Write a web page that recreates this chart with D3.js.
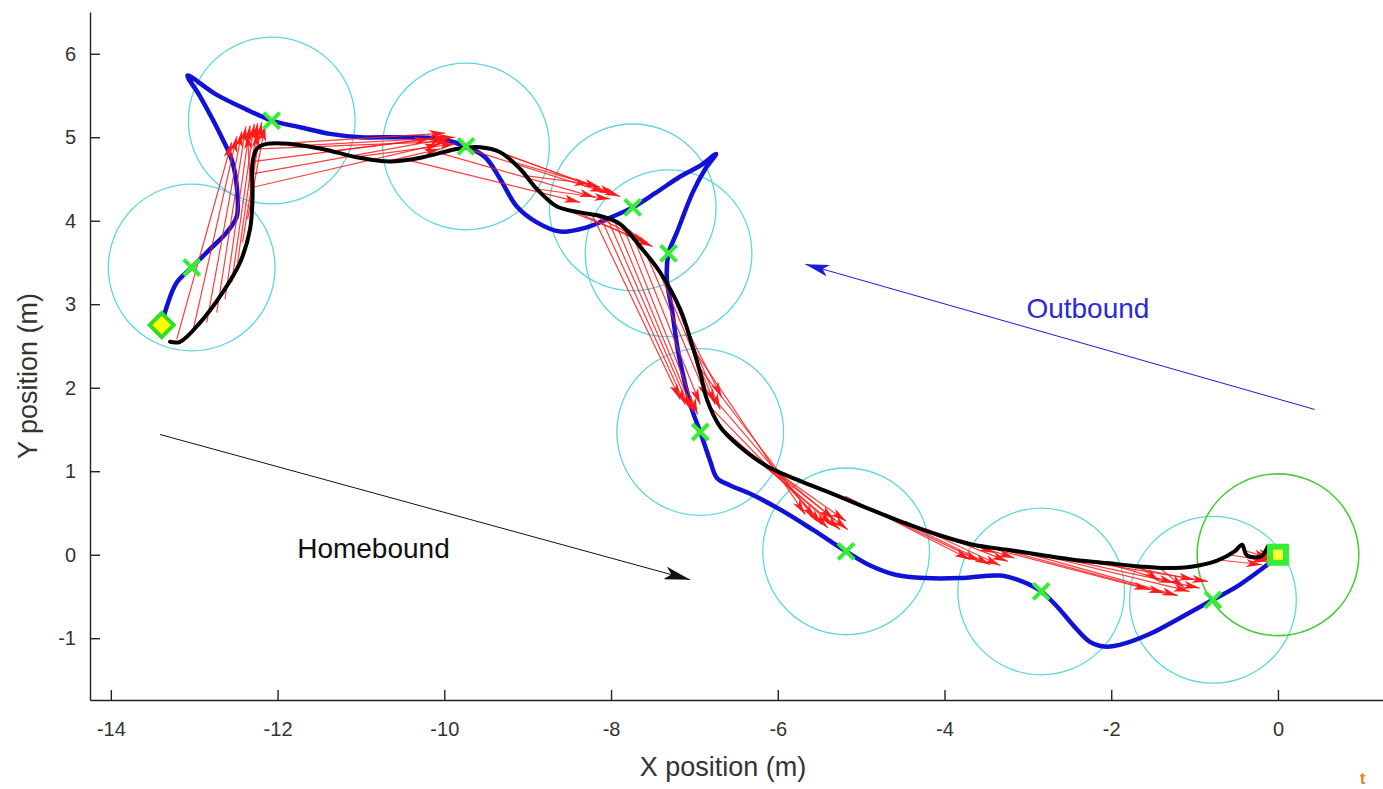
<!DOCTYPE html>
<html>
<head>
<meta charset="utf-8">
<script src="https://cdn.jsdelivr.net/npm/d3@7"></script>
<style>
  body { margin: 0; background: #fff; }
  svg { display: block; font-family: "Liberation Sans", Arial, sans-serif; }
  .axis path, .axis line { stroke: #222; stroke-width: 1.4px; }
  .axis text { fill: #333; font-size: 20px; }
</style>
</head>
<body>
<svg id="chart" width="1383" height="789"></svg>
<script>

// axis ticks
var xTicks = [-14, -12, -10, -8, -6, -4, -2, 0];
var yTicks = [-1, 0, 1, 2, 3, 4, 5, 6];

// outbound route (blue), from home to the feeder
var outboundPath = [
  [-0.10, -0.10], [-0.46, -0.36], [-0.78, -0.54], [-1.18, -0.76], [-1.54, -0.95], [-1.90, -1.08],
  [-2.08, -1.10], [-2.26, -1.04], [-2.46, -0.84], [-2.65, -0.62], [-2.84, -0.44], [-3.07, -0.32],
  [-3.33, -0.25], [-3.81, -0.28], [-4.23, -0.28], [-4.59, -0.24], [-4.89, -0.13], [-5.18, 0.04],
  [-5.58, 0.30], [-5.97, 0.54], [-6.33, 0.73], [-6.57, 0.83], [-6.73, 0.92], [-6.81, 1.12],
  [-6.93, 1.47], [-7.03, 1.74], [-7.11, 2.04], [-7.20, 2.46], [-7.27, 2.94], [-7.33, 3.30],
  [-7.31, 3.61], [-7.21, 3.86], [-7.02, 4.34], [-6.87, 4.62], [-6.74, 4.80], [-6.93, 4.66],
  [-7.17, 4.53], [-7.47, 4.33], [-7.74, 4.16], [-8.05, 4.02], [-8.29, 3.92], [-8.61, 3.87],
  [-8.89, 3.98], [-9.13, 4.17], [-9.33, 4.50], [-9.51, 4.76], [-9.74, 4.89], [-10.05, 4.98],
  [-10.53, 5.00], [-11.01, 5.00], [-11.37, 5.04], [-11.73, 5.12], [-12.07, 5.20], [-12.39, 5.34],
  [-12.75, 5.52], [-13.08, 5.74], [-12.93, 5.49], [-12.66, 4.98], [-12.54, 4.70], [-12.48, 4.29],
  [-12.49, 4.05], [-12.61, 3.86], [-12.81, 3.66], [-13.03, 3.44], [-13.21, 3.26], [-13.33, 2.97],
  [-13.39, 2.75]
];

// homebound route (black), from the feeder back home
var homeboundPath = [
  [-13.29, 2.55], [-13.17, 2.55], [-12.93, 2.78], [-12.66, 3.14], [-12.45, 3.50], [-12.33, 3.90],
  [-12.30, 4.29], [-12.30, 4.70], [-12.25, 4.86], [-12.13, 4.92], [-11.85, 4.92], [-11.46, 4.86],
  [-11.05, 4.76], [-10.65, 4.71], [-10.26, 4.76], [-9.85, 4.86], [-9.57, 4.88], [-9.33, 4.82],
  [-9.09, 4.62], [-8.89, 4.38], [-8.65, 4.17], [-8.37, 4.10], [-8.10, 4.05], [-7.89, 3.96],
  [-7.65, 3.69], [-7.41, 3.38], [-7.17, 2.94], [-7.03, 2.52], [-6.93, 2.18], [-6.85, 1.86],
  [-6.69, 1.53], [-6.45, 1.29], [-6.13, 1.06], [-5.77, 0.90], [-5.37, 0.74], [-4.98, 0.58],
  [-4.53, 0.40], [-4.05, 0.23], [-3.66, 0.12], [-3.25, 0.06], [-2.86, 0.00], [-2.46, -0.06],
  [-2.05, -0.10], [-1.66, -0.14], [-1.33, -0.16], [-1.02, -0.14], [-0.73, -0.07], [-0.52, 0.04],
  [-0.43, 0.12], [-0.38, 0.00], [-0.30, -0.03], [-0.20, -0.02], [-0.12, 0.10]
];

// snapshot locations (green crosses, cyan catchment circles)
var snapshots = [
  [-12.07, 5.20], [-9.74, 4.89], [-7.74, 4.16], [-7.31, 3.61], [-13.03, 3.44],
  [-6.93, 1.47], [-5.18, 0.04], [-2.84, -0.44], [-0.78, -0.54]
];
var snapshotRadius = 1.0;
var home = [0, 0];
var homeRadius = 0.97;
var feeder = [-13.39, 2.75];

// homing vectors (red arrows): start on the homebound path, end near the snapshot
var arrowFrom = [
  [-13.21, 2.58], [-13.02, 2.66], [-12.85, 2.78], [-12.73, 2.90], [-12.63, 3.06], [-12.55, 3.26],
  [-12.48, 3.50], [-12.42, 3.74], [-12.36, 4.02], [-12.32, 4.26], [-12.30, 4.53],
  [-12.30, 4.40], [-12.30, 4.56], [-12.28, 4.71], [-12.24, 4.86], [-12.03, 4.92], [-11.73, 4.90],
  [-11.37, 4.83], [-11.01, 4.77], [-10.65, 4.72],
  [-10.41, 4.72], [-10.05, 4.81], [-9.75, 4.87], [-9.51, 4.88], [-9.33, 4.82], [-9.19, 4.71],
  [-9.03, 4.54], [-8.89, 4.38],
  [-8.61, 4.16], [-8.43, 4.11], [-8.25, 4.09],
  [-8.23, 4.08], [-8.13, 4.05], [-8.04, 4.02], [-7.95, 3.98], [-7.83, 3.87], [-7.71, 3.75],
  [-7.56, 3.56], [-7.41, 3.36], [-7.27, 3.12], [-7.15, 2.82],
  [-7.05, 2.52], [-6.97, 2.28], [-6.91, 2.04], [-6.84, 1.80], [-6.72, 1.56], [-6.57, 1.40],
  [-6.39, 1.26], [-6.21, 1.12], [-6.03, 1.01],
  [-5.19, 0.70], [-4.95, 0.58], [-4.71, 0.49], [-4.47, 0.40], [-4.23, 0.31], [-4.00, 0.23], [-3.81, 0.18],
  [-3.57, 0.11], [-3.33, 0.07], [-3.10, 0.04], [-2.86, 0.00], [-2.62, -0.04], [-2.38, -0.07],
  [-2.14, -0.08], [-1.90, -0.12], [-1.66, -0.14], [-1.42, -0.16],
  [-0.73, -0.06], [-0.58, 0.00], [-0.43, 0.06], [-0.34, -0.02], [-0.24, 0.02]
];
var arrowTo = [
  [-12.55, 4.94], [-12.49, 5.01], [-12.43, 5.07], [-12.38, 5.13], [-12.33, 5.14], [-12.28, 5.16],
  [-12.24, 5.17], [-12.19, 5.18], [-12.15, 5.14], [-12.36, 5.05], [-12.24, 5.07],
  [-10.05, 4.92], [-9.99, 4.98], [-9.95, 5.01], [-9.93, 4.95], [-9.99, 5.05], [-9.87, 5.00],
  [-10.17, 4.98], [-9.87, 4.92], [-10.05, 4.86],
  [-8.37, 4.22], [-8.19, 4.28], [-8.07, 4.34], [-7.95, 4.32], [-7.89, 4.29], [-8.13, 4.40],
  [-8.25, 4.44], [-8.01, 4.26],
  [-7.56, 3.74], [-7.50, 3.69], [-7.65, 3.78],
  [-7.17, 1.86], [-7.11, 1.80], [-7.05, 1.74], [-7.01, 1.71], [-6.96, 1.68], [-6.93, 1.80],
  [-6.84, 1.86], [-6.75, 1.80], [-6.69, 1.74], [-6.67, 1.88],
  [-5.67, 0.48], [-5.55, 0.42], [-5.47, 0.36], [-5.40, 0.32], [-5.34, 0.35], [-5.25, 0.30],
  [-5.18, 0.40], [-5.16, 0.30], [-5.32, 0.42],
  [-3.69, -0.06], [-3.57, -0.08], [-3.45, -0.12], [-3.33, -0.13], [-3.24, -0.08], [-3.16, -0.04], [-3.39, 0.02],
  [-1.54, -0.42], [-1.36, -0.46], [-1.20, -0.49], [-1.06, -0.44], [-0.94, -0.40], [-0.84, -0.32],
  [-1.24, -0.34], [-1.00, -0.30], [-1.42, -0.32], [-1.12, -0.40],
  [-0.19, -0.12], [-0.12, -0.08], [-0.10, -0.04], [-0.07, -0.06], [-0.04, -0.01]
];

// annotations
var outboundLabel = { text: "Outbound", at: [-2.28, 2.84], from: [0.44, 1.74], to: [-5.67, 3.48] };
var homeboundLabel = { text: "Homebound", at: [-10.85, -0.04], from: [-13.41, 1.44], to: [-7.05, -0.30] };

var svg = d3.select('#chart');
var x = d3.scaleLinear().domain([-14.25, 1.26]).range([90, 1383]);
var y = d3.scaleLinear().domain([-1.74, 6.5]).range([700, 12]);
var pxPerUnit = x(1) - x(0);

var defs = svg.append('defs');
function addMarker(id, color, len, wid) {
  defs.append('marker')
    .attr('id', id)
    .attr('markerUnits', 'userSpaceOnUse')
    .attr('viewBox', '0 0 ' + len + ' ' + wid)
    .attr('refX', len).attr('refY', wid / 2)
    .attr('markerWidth', len).attr('markerHeight', wid)
    .attr('orient', 'auto')
    .append('path')
    .attr('d', 'M0,0L' + len + ',' + (wid / 2) + 'L0,' + wid + 'L' + (len * 0.25) + ',' + (wid / 2) + 'Z')
    .attr('fill', color);
}
addMarker('redhead', '#ff1a1a', 16, 8);
addMarker('bluehead', '#1a1ae0', 24, 12);
addMarker('blackhead', '#111', 26, 13);

// catchment circles
svg.append('g').selectAll('circle')
  .data(snapshots).enter().append('circle')
  .attr('cx', function(d) { return x(d[0]); })
  .attr('cy', function(d) { return y(d[1]); })
  .attr('r', snapshotRadius * pxPerUnit)
  .attr('fill', 'none')
  .attr('stroke', '#5fd6e2')
  .attr('stroke-width', 1.3);

svg.append('circle')
  .attr('cx', x(home[0])).attr('cy', y(home[1]))
  .attr('r', homeRadius * pxPerUnit)
  .attr('fill', 'none')
  .attr('stroke', '#4ccc3a')
  .attr('stroke-width', 1.6);

var line = d3.line()
  .x(function(d) { return x(d[0]); })
  .y(function(d) { return y(d[1]); })
  .curve(d3.curveCatmullRom.alpha(0.5));

// outbound
svg.append('path').datum(outboundPath)
  .attr('d', line)
  .attr('fill', 'none')
  .attr('stroke', '#1212d6')
  .attr('stroke-width', 4.5)
  .attr('stroke-linejoin', 'round')
  .attr('stroke-linecap', 'round');

// homing vectors
svg.append('g').selectAll('line')
  .data(arrowFrom).enter().append('line')
  .attr('x1', function(d) { return x(d[0]); })
  .attr('y1', function(d) { return y(d[1]); })
  .attr('x2', function(d, i) { return x(arrowTo[i][0]); })
  .attr('y2', function(d, i) { return y(arrowTo[i][1]); })
  .attr('stroke', '#ff1a1a')
  .attr('stroke-opacity', 0.85)
  .attr('stroke-width', 1.2)
  .attr('marker-end', 'url(#redhead)');

// homebound
svg.append('path').datum(homeboundPath)
  .attr('d', line)
  .attr('fill', 'none')
  .attr('stroke', '#000')
  .attr('stroke-width', 4)
  .attr('stroke-linejoin', 'round')
  .attr('stroke-linecap', 'round');

// snapshot crosses
svg.append('g').selectAll('path')
  .data(snapshots).enter().append('path')
  .attr('transform', function(d) { return 'translate(' + x(d[0]) + ',' + y(d[1]) + ')'; })
  .attr('d', 'M-8,-8L8,8M-8,8L8,-8')
  .attr('stroke', '#33ee33')
  .attr('stroke-width', 4);

// feeder diamond
svg.append('path')
  .attr('transform', 'translate(' + x(feeder[0]) + ',' + y(feeder[1]) + ')')
  .attr('d', 'M0,-12L12,0L0,12L-12,0Z')
  .attr('fill', '#ffff00')
  .attr('stroke', '#33dd22')
  .attr('stroke-width', 4);

// home square
svg.append('rect')
  .attr('x', x(home[0]) - 11).attr('y', y(home[1]) - 11)
  .attr('width', 22).attr('height', 22)
  .attr('fill', '#33ee33');
svg.append('rect')
  .attr('x', x(home[0]) - 5).attr('y', y(home[1]) - 5)
  .attr('width', 10).attr('height', 10)
  .attr('fill', '#ffff33');

// annotation arrows + labels
svg.append('line')
  .attr('x1', x(outboundLabel.from[0])).attr('y1', y(outboundLabel.from[1]))
  .attr('x2', x(outboundLabel.to[0])).attr('y2', y(outboundLabel.to[1]))
  .attr('stroke', '#1a1ae0').attr('stroke-width', 1)
  .attr('marker-end', 'url(#bluehead)');
svg.append('text')
  .attr('x', x(outboundLabel.at[0])).attr('y', y(outboundLabel.at[1]))
  .attr('text-anchor', 'middle')
  .attr('font-size', 28)
  .attr('fill', '#2a2ad8')
  .text(outboundLabel.text);

svg.append('line')
  .attr('x1', x(homeboundLabel.from[0])).attr('y1', y(homeboundLabel.from[1]))
  .attr('x2', x(homeboundLabel.to[0])).attr('y2', y(homeboundLabel.to[1]))
  .attr('stroke', '#111').attr('stroke-width', 1)
  .attr('marker-end', 'url(#blackhead)');
svg.append('text')
  .attr('x', x(homeboundLabel.at[0])).attr('y', y(homeboundLabel.at[1]))
  .attr('text-anchor', 'middle')
  .attr('font-size', 28)
  .attr('fill', '#111')
  .text(homeboundLabel.text);

// axes, ticks pointing inward
var xAxis = d3.axisBottom(x).tickValues(xTicks).tickSizeInner(-10).tickSizeOuter(0)
  .tickPadding(22).tickFormat(function(d) { return String(d); });
var yAxis = d3.axisLeft(y).tickValues(yTicks).tickSizeInner(-10).tickSizeOuter(0)
  .tickPadding(14).tickFormat(function(d) { return String(d); });

svg.append('g').attr('class', 'axis').attr('transform', 'translate(0,700)').call(xAxis);
svg.append('g').attr('class', 'axis').attr('transform', 'translate(90,0)').call(yAxis);
svg.selectAll('.axis text').attr('font-family', null);

svg.append('text')
  .attr('x', 723).attr('y', 776)
  .attr('text-anchor', 'middle')
  .attr('font-size', 27)
  .attr('fill', '#333')
  .text('X position (m)');
svg.append('text')
  .attr('transform', 'translate(37,' + 376 + ') rotate(-90)')
  .attr('text-anchor', 'middle')
  .attr('font-size', 27)
  .attr('fill', '#333')
  .text('Y position (m)');

svg.append('text')
  .attr('x', 1360).attr('y', 784)
  .attr('font-size', 16)
  .attr('font-weight', 'bold')
  .attr('fill', '#f07a1a')
  .text('t');

</script>
</body>
</html>
